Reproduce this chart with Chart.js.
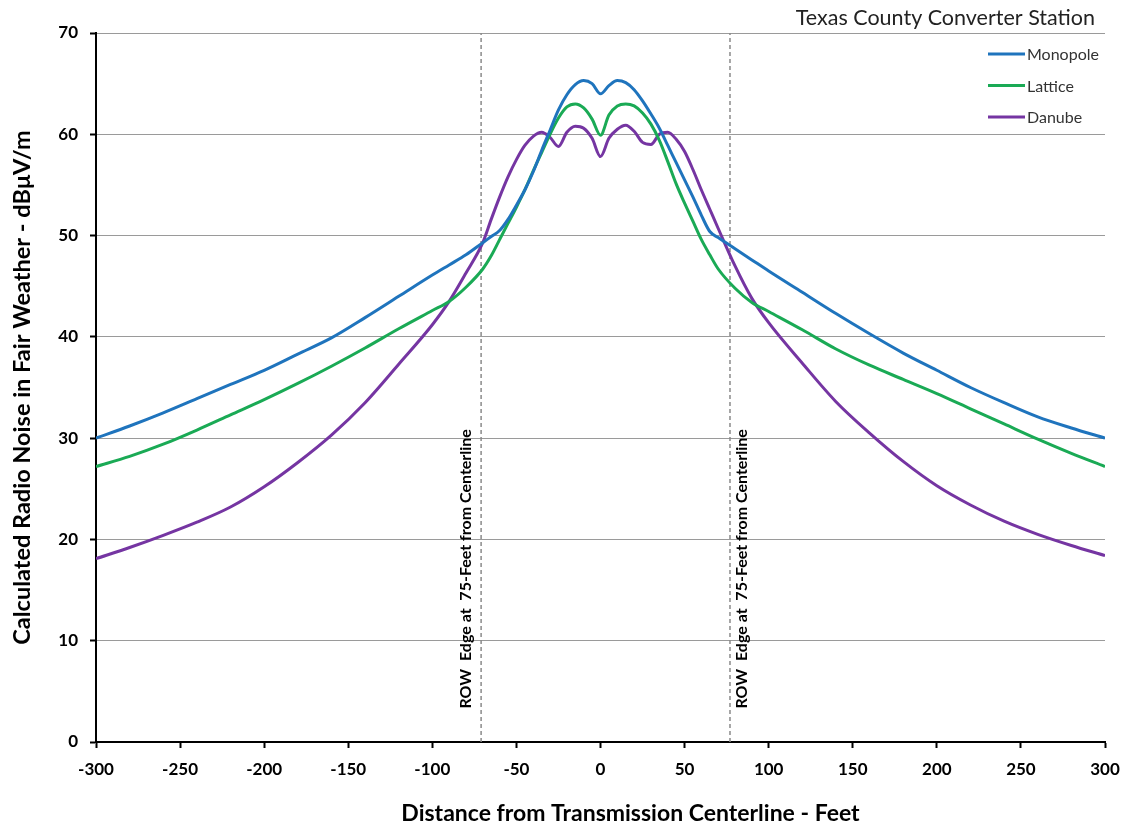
<!DOCTYPE html>
<html>
<head>
<meta charset="utf-8">
<script src="https://cdn.jsdelivr.net/npm/chart.js@4.4.0/dist/chart.umd.min.js"></script>
<style>
  html, body { margin: 0; padding: 0; background: #fff; }
</style>
</head>
<body>
<canvas id="chart" width="1124" height="827"></canvas>
<script>
// distance from centerline (feet)
const distanceFt = [-300, -280, -260, -240, -220, -200, -180, -160, -140, -120, -100, -90, -80, -70,
  -65, -60, -55, -50, -45, -40, -35, -30, -25, -20, -15, -10, -5, 0,
  5, 10, 15, 20, 25, 30, 35, 40, 45, 50, 55, 60, 65,
  70, 80, 90, 100, 120, 140, 160, 180, 200, 220, 240, 260, 280, 300];

const monopole = [30.0, 31.2, 32.5, 33.9, 35.3, 36.7, 38.3, 39.9, 41.9, 44.0, 46.1, 47.1, 48.1, 49.3,
  49.9, 50.5, 51.6, 53.0, 54.5, 56.3, 58.4, 60.4, 62.4, 63.9, 64.9, 65.3, 65.0, 64.0,
  64.8, 65.3, 65.1, 64.4, 63.3, 62.0, 60.6, 58.9, 57.2, 55.5, 53.8, 52.0, 50.4,
  49.8, 48.7, 47.6, 46.5, 44.4, 42.3, 40.3, 38.4, 36.7, 35.0, 33.5, 32.1, 31.0, 30.0];

const lattice = [27.2, 28.2, 29.4, 30.8, 32.3, 33.8, 35.4, 37.1, 38.9, 40.8, 42.6, 43.5, 44.9, 46.7,
  48.0, 49.6, 51.2, 52.8, 54.5, 56.4, 58.2, 60.0, 61.6, 62.7, 63.0, 62.6, 61.5, 59.9,
  61.9, 62.8, 63.0, 62.8, 62.1, 61.0, 59.4, 57.3, 55.1, 53.2, 51.4, 49.6, 48.1,
  46.7, 44.8, 43.4, 42.5, 40.7, 38.8, 37.2, 35.8, 34.4, 32.9, 31.4, 29.9, 28.5, 27.2];

const danube = [18.1, 19.2, 20.4, 21.7, 23.2, 25.2, 27.6, 30.3, 33.5, 37.3, 41.2, 43.5, 46.3, 49.3,
  51.6, 53.8, 55.8, 57.5, 58.9, 59.8, 60.2, 59.7, 58.8, 60.2, 60.8, 60.6, 59.6, 57.8,
  59.6, 60.5, 60.9, 60.3, 59.2, 59.0, 60.0, 60.2, 59.5, 58.3, 56.5, 54.5, 52.6,
  50.7, 47.0, 43.8, 41.4, 37.4, 33.6, 30.5, 27.7, 25.3, 23.4, 21.8, 20.5, 19.4, 18.4];

const seriesNames = ['Monopole', 'Lattice', 'Danube'];
const seriesColors = ['#1f74bd', '#1aaa55', '#7535a2'];

// right-of-way edge markers
const rowEdges = [-71, 77];
const rowLabel = 'ROW  Edge at  75-Feet from Centerline';

const chartTitle = 'Texas County Converter Station';
const xTitle = 'Distance from Transmission Centerline - Feet';
const yTitle = 'Calculated Radio Noise in Fair Weather - dB\u03bcV/m';

const FONT = 'Lato, "Open Sans", sans-serif';

function toPoints(ys) {
  return distanceFt.map((x, i) => ({ x: x, y: ys[i] }));
}

const datasets = [monopole, lattice, danube].map((ys, i) => ({
  label: seriesNames[i],
  data: toPoints(ys),
  borderColor: seriesColors[i],
  backgroundColor: seriesColors[i],
  borderWidth: 3,
  pointRadius: 0,
  cubicInterpolationMode: 'monotone',
  fill: false
}));

rowEdges.forEach(x => {
  datasets.push({
    label: 'row',
    data: [{ x: x, y: 0 }, { x: x, y: 70 }],
    borderColor: '#8a8a8a',
    borderWidth: 1.5,
    borderDash: [4, 3],
    pointRadius: 0,
    fill: false
  });
});

const extras = {
  id: 'extras',
  afterDraw(chart) {
    const ctx = chart.ctx;
    const area = chart.chartArea;
    const xs = chart.scales.x;
    const ys = chart.scales.y;
    ctx.save();

    // title top right
    ctx.fillStyle = '#222';
    ctx.font = '21.5px ' + FONT;
    ctx.textAlign = 'right';
    ctx.textBaseline = 'middle';
    ctx.fillText(chartTitle, 1095, 18);

    // legend
    ctx.font = '16px ' + FONT;
    ctx.textAlign = 'left';
    seriesNames.forEach((name, i) => {
      const y = 54 + i * 31.5;
      ctx.strokeStyle = seriesColors[i];
      ctx.lineWidth = 3;
      ctx.beginPath();
      ctx.moveTo(988, y);
      ctx.lineTo(1025, y);
      ctx.stroke();
      ctx.fillStyle = '#333';
      ctx.fillText(name, 1027, y + 1);
    });

    // ROW labels
    ctx.fillStyle = '#000';
    ctx.font = 'bold 16px ' + FONT;
    ctx.textAlign = 'center';
    rowEdges.forEach((v, i) => {
      const px = xs.getPixelForValue(v) + (i === 0 ? -15 : 12);
      const py = ys.getPixelForValue(17.1);
      ctx.save();
      ctx.translate(px, py);
      ctx.rotate(-Math.PI / 2);
      ctx.fillText(rowLabel, 0, 0);
      ctx.restore();
    });

    // x axis title
    ctx.font = 'bold 23px ' + FONT;
    ctx.fillText(xTitle, (area.left + area.right) / 2 + 30, 814);
    ctx.restore();
  }
};

new Chart(document.getElementById('chart'), {
  type: 'line',
  data: { datasets: datasets },
  options: {
    responsive: false,
    animation: false,
    devicePixelRatio: 1,
    layout: { padding: { top: 33, right: 19, bottom: 0, left: 0 } },
    plugins: {
      legend: { display: false },
      tooltip: { enabled: false }
    },
    scales: {
      x: {
        type: 'linear',
        min: -300,
        max: 300,
        afterFit: s => { s.height = 85; s.paddingRight = 0; },
        ticks: {
          stepSize: 50,
          color: '#000',
          padding: 11,
          font: { family: FONT, size: 17, weight: 'bold' }
        },
        grid: {
          drawOnChartArea: false,
          tickLength: 6,
          tickColor: '#000',
          tickWidth: 2
        },
        border: { color: '#000', width: 2 }
      },
      y: {
        min: 0,
        max: 70,
        afterFit: s => { s.width = 96; },
        ticks: {
          stepSize: 10,
          color: '#000',
          padding: 12,
          font: { family: FONT, size: 17, weight: 'bold' }
        },
        grid: {
          color: '#9a9a9a',
          lineWidth: 1,
          tickLength: 6,
          tickColor: '#000',
          tickWidth: 2
        },
        border: { color: '#000', width: 2 },
        title: {
          display: true,
          text: yTitle,
          color: '#000',
          padding: { top: 8, bottom: 0 },
          font: { family: FONT, size: 23.5, weight: 'bold' }
        }
      }
    }
  },
  plugins: [extras]
});
</script>
</body>
</html>
